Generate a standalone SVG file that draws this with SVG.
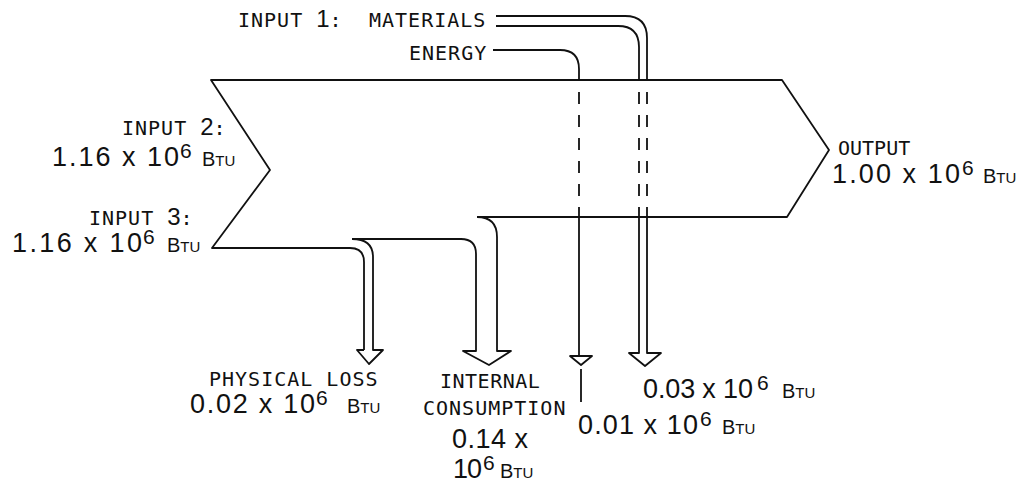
<svg xmlns="http://www.w3.org/2000/svg" width="1028" height="491" viewBox="0 0 1028 491">
<style>
.ln{fill:none;stroke:#111;stroke-width:1.8;stroke-linejoin:round;stroke-linecap:butt}
.ds{stroke-dasharray:12 11}
.lab{font-family:"DejaVu Sans Mono",monospace;font-size:20px;letter-spacing:1px;fill:#111}
.dig{font-family:"Liberation Sans",sans-serif;font-size:24px;letter-spacing:0}
.num{font-family:"Liberation Sans",sans-serif;font-size:27px;fill:#111}
.sup{font-size:21px}
.b{font-size:20px}
.sc{font-size:15px}
</style>
<rect width="1028" height="491" fill="#fff"/>
<g id="process">
<path class="ln" d="M364,350 V262 Q364,248 350,248 H212 L270,170 L211,80 H782 L829,150 L787,217 H477"/>
</g>
<g id="connectors">
<!-- materials input -->
<path class="ln" d="M496,16 H625 Q647,16 647,38 V80"/>
<path class="ln" d="M496,26 H618 Q639,26 639,47 V80"/>
<path class="ln ds" d="M639,92 V217 M647,92 V217"/>
<path class="ln" d="M639,217 V353 H629 L645,366 L661,353 H647 V217"/>
<!-- energy input -->
<path class="ln" d="M493,50 H560 Q579,50 579,69 V80"/>
<path class="ln ds" d="M579,92 V217"/>
<path class="ln" d="M579,217 V356"/>
<path class="ln" d="M570,356 H592 L581,365 Z"/>
<path class="ln" d="M581,369 V402"/>
<!-- physical loss -->
<path class="ln" d="M352,239 Q373,239 373,257 V350 H383 L369,364 L357,350 H364"/>
<!-- internal consumption -->
<path class="ln" d="M352,239 H461 Q476,239 476,254 V351 H463 L489,365 L511,351 H497 V237 Q497,217 477,217"/>
</g>
<g id="labels">
<text class="lab" x="238" y="27">INPUT <tspan class="dig">1</tspan>:</text>
<text class="lab" x="369" y="27">MATERIALS</text>
<text class="lab" x="409" y="60">ENERGY</text>
<text class="lab" x="122" y="135">INPUT <tspan class="dig">2</tspan>:</text>
<text class="num" y="166"><tspan x="52" textLength="127">1.16 x 10</tspan><tspan class="sup" x="180" y="158">6</tspan><tspan class="b" x="202" y="166">B</tspan><tspan class="sc">TU</tspan></text>
<text class="lab" x="89" y="225">INPUT <tspan class="dig">3</tspan>:</text>
<text class="num" y="252"><tspan x="12" textLength="130">1.16 x 10</tspan><tspan class="sup" x="143" y="244">6</tspan><tspan class="b" x="167" y="252">B</tspan><tspan class="sc">TU</tspan></text>
<text class="lab" x="838" y="155" style="letter-spacing:0">OUTPUT</text>
<text class="num" y="183"><tspan x="832" textLength="128">1.00 x 10</tspan><tspan class="sup" x="962" y="175">6</tspan><tspan class="b" x="983" y="183">B</tspan><tspan class="sc">TU</tspan></text>
<text class="lab" x="209" y="386">PHYSICAL LOSS</text>
<text class="num" y="413"><tspan x="190" textLength="125">0.02 x 10</tspan><tspan class="sup" x="316" y="405">6</tspan><tspan class="b" x="347" y="413">B</tspan><tspan class="sc">TU</tspan></text>
<text class="lab" x="440" y="388" style="letter-spacing:0.5px">INTERNAL</text>
<text class="lab" x="423" y="415">CONSUMPTION</text>
<text class="num" y="448"><tspan x="452" textLength="76">0.14 x</tspan></text>
<text class="num" y="478"><tspan x="453" textLength="29">10</tspan><tspan class="sup" x="483" y="470">6</tspan><tspan class="b" x="500" y="478">B</tspan><tspan class="sc">TU</tspan></text>
<text class="num" y="398"><tspan x="643" textLength="110">0.03 x 10</tspan><tspan class="sup" x="757" y="390">6</tspan><tspan class="b" x="782" y="398">B</tspan><tspan class="sc">TU</tspan></text>
<text class="num" y="434"><tspan x="578" textLength="120">0.01 x 10</tspan><tspan class="sup" x="700" y="426">6</tspan><tspan class="b" x="722" y="434">B</tspan><tspan class="sc">TU</tspan></text>
</g>
</svg>
